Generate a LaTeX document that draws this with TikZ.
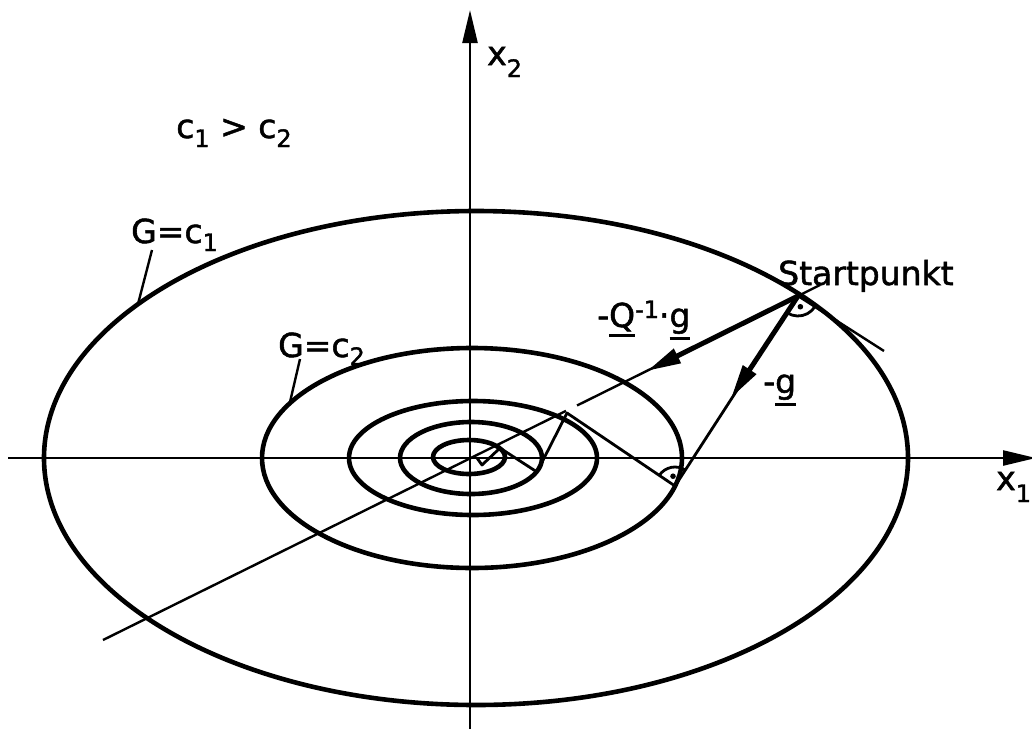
\documentclass[tikz,border=0pt]{standalone}
\usepackage{fontspec}
\setmainfont{DejaVu Sans}[BoldFont={DejaVu Sans},BoldFeatures={FakeBold=1.6}]
\usetikzlibrary{arrows.meta}
\newcommand\lowidx[2]{\raisebox{-#1}{\fontsize{24}{24}\selectfont #2}}
\newcommand\highidx[2]{\raisebox{#1}{\fontsize{24}{24}\selectfont #2}}
\newcommand\vecul[1]{\vtop{\hbox{#1}\kern3pt\hrule height 2.8pt}}
\begin{document}
\begin{tikzpicture}[x=1pt,y=-1pt,
  axis/.style={line width=2.4pt, -{Triangle[length=33pt,width=15pt]}},
  level/.style={line width=4.6pt},
  thinln/.style={line width=2.4pt},
  pathln/.style={line width=2.8pt, line join=round},
  vecarrow/.style={line width=5pt, -{Triangle[length=34pt,width=15pt]}},
  lbl/.style={inner sep=0pt, anchor=base west, font=\fontsize{33}{33}\selectfont\bfseries},
  ]
\useasboundingbox (0,0) rectangle (1032,731);
% coordinates
\coordinate (O) at (471,458);
\coordinate (xs) at (8,458);
\coordinate (xe) at (1036,458);
\coordinate (ys) at (470,729);
\coordinate (ye) at (470,10);
\coordinate (S) at (798,296);
\coordinate (T) at (884,351);
\coordinate (N0) at (103,640);
\coordinate (Ng1) at (566,410.9);
\coordinate (Ng2) at (577,405.5);
\coordinate (Nend) at (820,285);
\coordinate (Ntip) at (647,371);
\coordinate (gtip) at (731,398);
\coordinate (P1) at (675,486);
\coordinate (P2) at (567,413);
\coordinate (P3) at (537,472);
\coordinate (P4) at (500,448);
\coordinate (P5) at (482,465);
\coordinate (P6) at (477,458);
\coordinate (L1a) at (152,250);
\coordinate (L1b) at (138,304);
\coordinate (L2a) at (300,359);
\coordinate (L2b) at (290,402);
% axes
\draw[axis] (xs) -- (xe);
\draw[axis] (ys) -- (ye);
% level curves
\draw[level] (476,458) ellipse [x radius=432, y radius=247];
\draw[level] (472,458) ellipse [x radius=210, y radius=110];
\draw[level] (473,458) ellipse [x radius=124, y radius=57];
\draw[level] (471,458) ellipse [x radius=71, y radius=36];
\draw[level] (469,457) ellipse [x radius=36, y radius=17];
% Newton direction line
\draw[thinln] (N0) -- (Ng1);
\draw[thinln] (Ng2) -- (S) -- (Nend);
% tangent at start point
\draw[thinln] (S) -- (T);
% steepest descent zigzag
\draw[pathln] (S) -- (P1) -- (P2) -- (P3) -- (P4) -- (P5) -- (P6);
% vectors
\draw[vecarrow] (S) -- (Ntip);
\draw[vecarrow] (S) -- (gtip);
% right angle markers
\draw[pathln] (S) ++(32.4:20) arc[start angle=32.4, end angle=122.9, radius=20];
\fill (S) ++(77.6:11) circle[radius=2.8];
\draw[pathln] (P1) ++(-145.9:19) arc[start angle=-145.9, end angle=-57.1, radius=19];
\fill (P1) ++(-101.5:10) circle[radius=2.8];
% leader lines
\draw[thinln] (L1a) -- (L1b);
\draw[thinln] (L2a) -- (L2b);
% labels
\node[lbl] (lstart) at (778,285) {Startpunkt};
\node[lbl] (lnewton) at (597,327) {-\vecul{Q}\highidx{9pt}{-1}·\vecul{g}};
\node[lbl] (lg) at (763,393) {-\vecul{g}};
\node[lbl] (lc1) at (131,243) {G=c\lowidx{8pt}{1}};
\node[lbl] (lc2) at (278,357) {G=c\lowidx{8pt}{2}};
\node[lbl] (lcc) at (176,138) {c\lowidx{9pt}{1} > c\lowidx{9pt}{2}};
\node[lbl] (lx2) at (487,65) {x\lowidx{12pt}{2}};
\node[lbl] (lx1) at (996,490) {x\lowidx{12pt}{1}};
\end{tikzpicture}
\end{document}
